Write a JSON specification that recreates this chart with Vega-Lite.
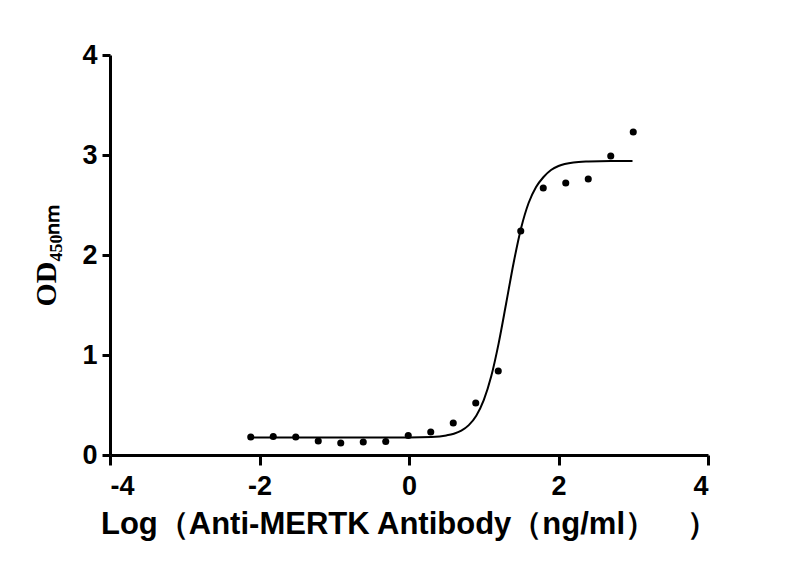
{
  "$schema": "https://vega.github.io/schema/vega-lite/v6.json",
  "width": 598,
  "height": 400,
  "autosize": {"type": "none"},
  "padding": {"left": 110, "top": 55, "right": 92, "bottom": 124},
  "background": "white",
  "datasets": {
    "points": [
      {"logc": -2.117, "od": 0.18},
      {"logc": -1.816, "od": 0.185},
      {"logc": -1.515, "od": 0.18},
      {"logc": -1.214, "od": 0.14},
      {"logc": -0.913, "od": 0.12},
      {"logc": -0.612, "od": 0.13},
      {"logc": -0.311, "od": 0.135},
      {"logc": -0.01, "od": 0.195},
      {"logc": 0.291, "od": 0.23},
      {"logc": 0.592, "od": 0.32},
      {"logc": 0.893, "od": 0.52},
      {"logc": 1.194, "od": 0.84},
      {"logc": 1.495, "od": 2.24},
      {"logc": 1.796, "od": 2.67},
      {"logc": 2.097, "od": 2.72},
      {"logc": 2.398, "od": 2.76},
      {"logc": 2.699, "od": 2.99},
      {"logc": 3.0, "od": 3.23}
    ],
    "fit": [
      {"logc": -2.12, "od": 0.175},
      {"logc": -1.0, "od": 0.175},
      {"logc": 0.0, "od": 0.176},
      {"logc": 0.3, "od": 0.181},
      {"logc": 0.5, "od": 0.196},
      {"logc": 0.6, "od": 0.213},
      {"logc": 0.7, "od": 0.244},
      {"logc": 0.8, "od": 0.299},
      {"logc": 0.9, "od": 0.393},
      {"logc": 1.0, "od": 0.548},
      {"logc": 1.1, "od": 0.787},
      {"logc": 1.2, "od": 1.119},
      {"logc": 1.3, "od": 1.517},
      {"logc": 1.4, "od": 1.923},
      {"logc": 1.5, "od": 2.27},
      {"logc": 1.6, "od": 2.52},
      {"logc": 1.7, "od": 2.68},
      {"logc": 1.8, "od": 2.78},
      {"logc": 1.9, "od": 2.85},
      {"logc": 2.0, "od": 2.89},
      {"logc": 2.2, "od": 2.925},
      {"logc": 2.4, "od": 2.935},
      {"logc": 2.7, "od": 2.94},
      {"logc": 2.99, "od": 2.94}
    ]
  },
  "layer": [
    {
      "data": {"name": "fit"},
      "mark": {"type": "line", "color": "black", "strokeWidth": 2, "interpolate": "monotone"},
      "encoding": {
        "x": {"field": "logc", "type": "quantitative"},
        "y": {"field": "od", "type": "quantitative"}
      }
    },
    {
      "data": {"name": "points"},
      "mark": {"type": "circle", "color": "black", "opacity": 1, "size": 50},
      "encoding": {
        "x": {
          "field": "logc",
          "type": "quantitative",
          "scale": {"domain": [-4, 4], "nice": false},
          "axis": {
            "values": [-4, -2, 0, 2, 4],
            "labelExpr": "'' + datum.value",
            "title": "Log（Anti-MERTK Antibody（ng/ml）　）",
            "titleFont": "Liberation Sans",
            "titleFontSize": 31,
            "titleFontWeight": "bold",
            "titlePadding": 10,
            "labelFontSize": 27,
            "labelPadding": 8,
            "tickSize": 10
          }
        },
        "y": {
          "field": "od",
          "type": "quantitative",
          "scale": {"domain": [0, 4], "nice": false},
          "axis": {
            "values": [0, 1, 2, 3, 4],
            "labelExpr": "'' + datum.value",
            "title": "OD₄₅₀ₙₘ",
            "titleFont": "Liberation Serif",
            "titleFontSize": 30,
            "titleFontWeight": "bold",
            "titlePadding": 20,
            "labelFontSize": 27,
            "labelPadding": 5,
            "tickSize": 8
          }
        }
      }
    }
  ],
  "config": {
    "view": {"stroke": null},
    "axis": {
      "grid": false,
      "domainColor": "black",
      "domainWidth": 3,
      "tickColor": "black",
      "tickWidth": 3,
      "labelColor": "black",
      "labelFont": "Liberation Sans",
      "labelFontWeight": "bold",
      "titleColor": "black"
    }
  }
}
